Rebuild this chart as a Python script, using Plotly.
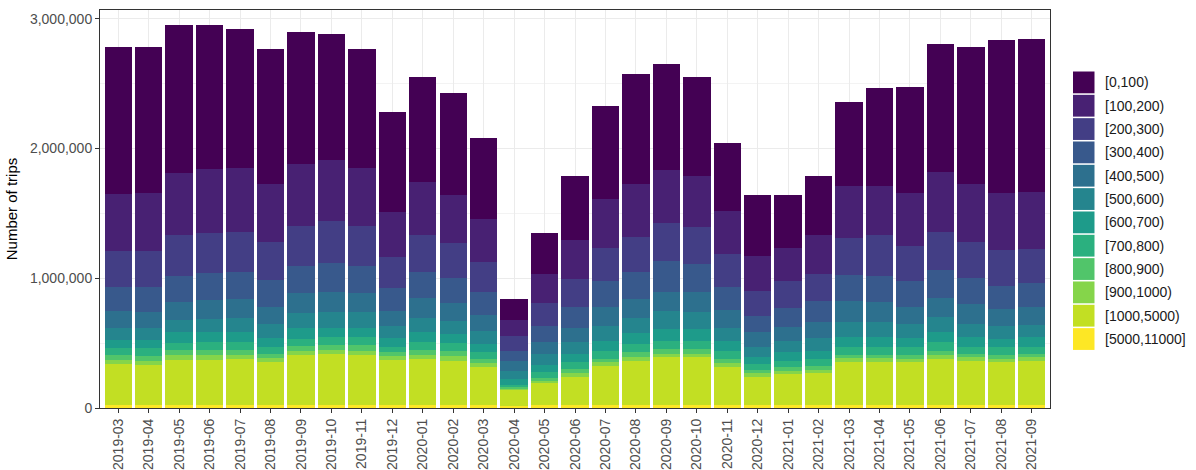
import plotly.graph_objects as go

months = [
    "2019-03", "2019-04", "2019-05", "2019-06", "2019-07", "2019-08", "2019-09", "2019-10",
    "2019-11", "2019-12", "2020-01", "2020-02", "2020-03", "2020-04", "2020-05", "2020-06",
    "2020-07", "2020-08", "2020-09", "2020-10", "2020-11", "2020-12", "2021-01", "2021-02",
    "2021-03", "2021-04", "2021-05", "2021-06", "2021-07", "2021-08", "2021-09",
]

bins = [
    "[0,100)", "[100,200)", "[200,300)", "[300,400)", "[400,500)", "[500,600)",
    "[600,700)", "[700,800)", "[800,900)", "[900,1000)", "[1000,5000)", "[5000,11000]",
]

# trip counts per month, one list per distance bin (thousands)
trips_0_100 = [1130, 1120, 1140, 1110, 1070, 1040, 1020, 970, 920, 770, 810, 790, 625, 164, 320, 493,
               716, 849, 823, 759, 526, 468, 404, 460, 644, 752, 815, 985, 1051, 1174, 1177]
trips_100_200 = [440, 450, 480, 488, 490, 450, 480, 470, 450, 345, 405, 370, 328, 120, 220, 300,
                 373, 409, 408, 396, 328, 269, 261, 300, 401, 385, 409, 460, 447, 440, 438]
trips_200_300 = [280, 280, 310, 315, 310, 294, 304, 320, 305, 240, 290, 264, 231, 116, 175, 219,
                 261, 269, 293, 287, 255, 192, 206, 210, 287, 311, 270, 295, 275, 277, 269]
trips_300_400 = [185, 193, 200, 205, 210, 211, 213, 224, 212, 175, 197, 200, 177, 82, 129, 155,
                 201, 210, 234, 218, 180, 129, 143, 162, 205, 205, 205, 217, 205, 179, 185]
trips_400_500 = [125, 117, 140, 146, 146, 127, 153, 159, 146, 115, 154, 138, 123, 77, 89, 114,
                 140, 146, 151, 154, 135, 110, 108, 120, 162, 154, 127, 149, 153, 128, 133]
trips_500_600 = [95, 95, 97, 103, 111, 108, 113, 117, 117, 98, 111, 98, 102, 59, 82, 86,
                 116, 119, 136, 128, 106, 77, 89, 98, 110, 115, 111, 116, 103, 103, 97]
trips_600_700 = [62, 62, 83, 77, 77, 72, 85, 75, 75, 64, 77, 70, 64, 44, 60, 68,
                 77, 81, 90, 90, 72, 56, 65, 64, 77, 72, 69, 77, 72, 64, 72]
trips_700_800 = [53, 59, 50, 59, 59, 51, 52, 57, 59, 43, 59, 58, 52, 20, 40, 52,
                 64, 64, 64, 64, 64, 46, 51, 51, 63, 63, 59, 64, 56, 58, 56]
trips_800_900 = [37, 39, 40, 37, 37, 34, 40, 41, 46, 30, 37, 42, 33, 10, 25, 32,
                 26, 34, 35, 35, 31, 26, 26, 31, 27, 27, 29, 32, 27, 30, 27]
trips_900_1000 = [33, 30, 37, 37, 32, 31, 30, 30, 35, 30, 32, 35, 31, 10, 20, 31,
                  25, 31, 29, 29, 28, 26, 25, 28, 31, 31, 28, 32, 30, 28, 25]
trips_1000_5000 = [315, 310, 348, 348, 353, 327, 385, 392, 380, 345, 353, 340, 292, 125, 170, 215,
                   302, 340, 366, 366, 297, 222, 243, 246, 327, 327, 327, 353, 335, 327, 340]
trips_5000_11000 = [25, 25, 25, 25, 25, 25, 25, 25, 25, 25, 25, 25, 22, 15, 20, 22,
                    25, 25, 25, 25, 22, 20, 20, 22, 25, 25, 25, 25, 25, 25, 25]

series = [trips_0_100, trips_100_200, trips_200_300, trips_300_400, trips_400_500,
          trips_500_600, trips_600_700, trips_700_800, trips_800_900, trips_900_1000,
          trips_1000_5000, trips_5000_11000]

viridis12 = ["#440154", "#482173", "#433E85", "#38598C", "#2D708E", "#25858E",
             "#1E9B8A", "#2BB07F", "#51C56A", "#85D54A", "#C2DF23", "#FDE725"]

FONT = "Liberation Sans, Arial, sans-serif"

fig = go.Figure()
# stack from the bottom: longest trips first, [0,100) ends on top
for name, vals, col in reversed(list(zip(bins, series, viridis12))):
    fig.add_trace(go.Bar(
        x=months, y=[v * 1000 for v in vals], name=name,
        marker=dict(color=col, line=dict(width=0)),
        showlegend=False,
    ))

# page geometry (px)
W, H = 1196, 470
ML, MR, MT, MB = 100, 146, 10, 62
PW, PH = W - ML - MR, H - MT - MB


def px_to_paper(px, py):
    return (px - ML) / PW, (H - MB - py) / PH


# legend drawn as keys + labels at the right of the panel
shapes = []
annotations = []
key_x0, key_x1 = 1073, 1094.5
key_top, key_h, key_step = 71.5, 21.8, 23.33
for i, (name, col) in enumerate(zip(bins, viridis12)):
    y0 = key_top + i * key_step
    x0p, y0p = px_to_paper(key_x0, y0 + key_h)
    x1p, y1p = px_to_paper(key_x1, y0)
    shapes.append(dict(type="rect", xref="paper", yref="paper",
                       x0=x0p, x1=x1p, y0=y0p, y1=y1p,
                       fillcolor=col, line=dict(width=0)))
    tx, ty = px_to_paper(1103, y0 + key_h / 2)
    annotations.append(dict(xref="paper", yref="paper", x=tx, y=ty,
                            text=name, showarrow=False, xanchor="left", yanchor="middle",
                            font=dict(family=FONT, size=14, color="#1A1A1A")))

fig.update_layout(
    width=W, height=H,
    margin=dict(l=ML, r=MR, t=MT, b=MB, pad=0, autoexpand=False),
    barmode="stack", bargap=0.1,
    paper_bgcolor="white", plot_bgcolor="white",
    font=dict(family=FONT, size=14, color="#4D4D4D"),
    shapes=shapes, annotations=annotations,
    xaxis=dict(
        type="category", tickangle=-90, automargin=False,
        showgrid=True, gridcolor="#EBEBEB", gridwidth=1,
        showline=True, mirror=True, linecolor="#333333", linewidth=1,
        ticks="outside", ticklen=4, tickcolor="#333333",
        tickfont=dict(family=FONT, size=14, color="#4D4D4D"),
        range=[-0.6, len(months) - 0.4],
    ),
    yaxis=dict(
        title=dict(text="Number of trips", font=dict(family=FONT, size=15, color="#000000"), standoff=8),
        automargin=False,
        range=[0, 3068000], tick0=0, dtick=1000000, tickformat=",d",
        showgrid=True, gridcolor="#EBEBEB", gridwidth=1,
        minor=dict(dtick=500000, showgrid=True, gridcolor="#F3F3F3", gridwidth=0.6),
        showline=True, mirror=True, linecolor="#333333", linewidth=1,
        ticks="outside", ticklen=4, tickcolor="#333333",
        tickfont=dict(family=FONT, size=14, color="#4D4D4D"),
        zeroline=False,
    ),
)

fig.write_html("out.html")
